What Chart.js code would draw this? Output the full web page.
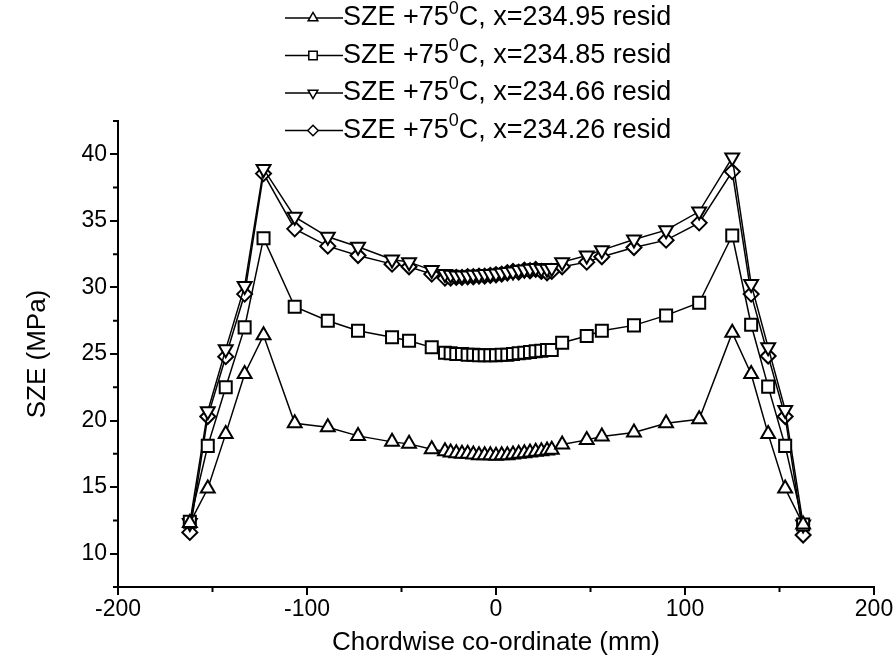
<!DOCTYPE html>
<html>
<head>
<meta charset="utf-8">
<script src="https://cdn.jsdelivr.net/npm/chart.js"></script>
<style>
  body { margin: 0; background: #fff; }
  .ChartWrapper { width: 896px; height: 663px; }
</style>
</head>
<body>
<div class="ChartWrapper"><canvas id="myChart"></canvas></div>
<script>
// chordwise positions (mm), shared by all four runs
const xPos = [-162, -152.5, -143, -133, -123, -106.5, -89, -73, -55, -46, -34,
  -27, -24, -21, -18, -15, -12, -9, -6, -3, 0, 3, 6, 9, 12, 15, 18, 21, 24, 27, 29.5,
  35, 48, 56, 73, 90, 107.5, 125, 135, 144, 153, 162.5];

const resid23495 = [12.3, 14.9, 19.0, 23.5, 26.4, 19.8, 19.5, 18.85, 18.4, 18.25, 17.85,
  17.7, 17.6, 17.55, 17.5, 17.5, 17.45, 17.4, 17.4, 17.4, 17.35, 17.4, 17.4, 17.45, 17.5, 17.55, 17.6, 17.65, 17.7, 17.75, 17.8,
  18.2, 18.55, 18.8, 19.1, 19.8, 20.1, 26.6, 23.5, 19.0, 14.9, 12.2];

const resid23485 = [12.4, 18.1, 22.5, 27.0, 33.7, 28.55, 27.5, 26.75, 26.25, 26.0, 25.5,
  25.1, 25.05, 25.0, 25.0, 24.95, 24.95, 24.9, 24.9, 24.9, 24.9, 24.95, 24.95, 25.0, 25.05, 25.1, 25.15, 25.2, 25.25, 25.3, 25.3,
  25.85, 26.35, 26.75, 27.15, 27.9, 28.85, 33.9, 27.2, 22.55, 18.1, 12.2];

const resid23466 = [12.3, 20.7, 25.35, 30.1, 38.9, 35.3, 33.8, 33.05, 32.1, 31.9, 31.3,
  31.0, 30.95, 30.9, 30.9, 30.9, 30.95, 30.95, 31.0, 31.0, 31.05, 31.1, 31.15, 31.2, 31.3, 31.35, 31.4, 31.45, 31.4, 31.4, 31.45,
  31.9, 32.4, 32.8, 33.6, 34.3, 35.7, 39.75, 30.25, 25.5, 20.8, 12.2];

const resid23426 = [11.6, 20.3, 24.8, 29.5, 38.55, 34.4, 33.1, 32.4, 31.75, 31.55, 31.0,
  30.7, 30.7, 30.75, 30.75, 30.8, 30.8, 30.85, 30.85, 30.9, 30.95, 31.0, 31.1, 31.2, 31.15, 31.3, 31.25, 31.35, 31.2, 31.1, 31.2,
  31.55, 31.9, 32.3, 33.0, 33.55, 34.85, 38.7, 29.5, 24.85, 20.3, 11.4];

const seriesNames = ['x=234.95 resid', 'x=234.85 resid', 'x=234.66 resid', 'x=234.26 resid'];
const xMajorTicks = [-200, -100, 0, 100, 200];
const xMinorTicks = [-150, -50, 50, 150];
const yMajorTicks = [10, 15, 20, 25, 30, 35, 40];
const yMinorTicks = [7.5, 12.5, 17.5, 22.5, 27.5, 32.5, 37.5, 42.5];

const FONT = '"Liberation Sans", Arial, sans-serif';

const toPoints = vals => xPos.map((x, i) => ({ x: x, y: vals[i] }));

const makeSet = (name, vals, style, rot, r) => ({
  label: name,
  data: toPoints(vals),
  borderColor: '#000',
  borderWidth: 1.5,
  pointStyle: style,
  rotation: rot,
  pointRadius: r,
  pointBorderWidth: 2,
  pointBorderColor: '#000',
  pointBackgroundColor: '#fff',
  fill: false,
  tension: 0
});

// short minor ticks that Chart.js does not draw on its own
const minorTicks = {
  id: 'minorTicks',
  afterDraw(chart) {
    const ctx = chart.ctx;
    const xs = chart.scales.x, ys = chart.scales.y;
    ctx.save();
    ctx.strokeStyle = '#000';
    ctx.lineWidth = 2;
    ctx.beginPath();
    xMinorTicks.forEach(v => {
      const px = xs.getPixelForValue(v);
      ctx.moveTo(px, xs.top);
      ctx.lineTo(px, xs.top + 5);
    });
    yMinorTicks.forEach(v => {
      const py = ys.getPixelForValue(v);
      ctx.moveTo(ys.right, py);
      ctx.lineTo(ys.right - 5, py);
    });
    // axis runs a little past the corner, like the original
    ctx.moveTo(ys.right, xs.top);
    ctx.lineTo(ys.right, xs.top + 7);
    ctx.stroke();
    ctx.restore();
  }
};

// legend drawn as "—marker—text" rows like the original plot
const legendRows = {
  id: 'legendRows',
  afterDraw(chart) {
    const ctx = chart.ctx;
    ctx.save();
    chart.data.datasets.forEach((ds, i) => {
      const y = 18 + i * 37.5;
      ctx.strokeStyle = '#000';
      ctx.lineWidth = 1.5;
      ctx.beginPath();
      ctx.moveTo(285, y);
      ctx.lineTo(343, y);
      ctx.stroke();
      ctx.fillStyle = '#fff';
      Chart.helpers.drawPoint(ctx, {
        pointStyle: ds.pointStyle, rotation: ds.rotation,
        radius: ds.pointRadius * 0.7, borderWidth: 1.5
      }, 313, y);

      ctx.fillStyle = '#000';
      ctx.textBaseline = 'middle';
      ctx.textAlign = 'left';
      ctx.font = '27px ' + FONT;
      let x = 343;
      const a = 'SZE +75';
      ctx.fillText(a, x, y);
      x += ctx.measureText(a).width;
      ctx.font = '18px ' + FONT;
      ctx.fillText('0', x, y - 9);
      x += ctx.measureText('0').width;
      ctx.font = '27px ' + FONT;
      ctx.fillText('C, ' + ds.label, x, y);
    });
    ctx.restore();
  }
};

new Chart(document.getElementById('myChart').getContext('2d'), {
  type: 'line',
  data: {
    datasets: [
      makeSet(seriesNames[0], resid23495, 'triangle', 0, 8),
      makeSet(seriesNames[1], resid23485, 'rect', 0, 8.5),
      makeSet(seriesNames[2], resid23466, 'triangle', 180, 8),
      makeSet(seriesNames[3], resid23426, 'rectRot', 0, 7.5)
    ]
  },
  options: {
    responsive: true,
    maintainAspectRatio: false,
    animation: false,
    layout: { padding: { left: 0, right: 22, top: 121, bottom: 0 } },
    plugins: {
      legend: { display: false },
      tooltip: { enabled: false }
    },
    scales: {
      x: {
        type: 'linear',
        min: -200,
        max: 200,
        afterBuildTicks: s => { s.ticks = xMajorTicks.map(v => ({ value: v })); },
        afterFit: s => { s.height = 76; },
        border: { color: '#000', width: 2 },
        grid: { display: true, drawOnChartArea: false, drawTicks: true, tickLength: 8, color: '#000', lineWidth: 2 },
        ticks: { color: '#000', font: { family: FONT, size: 23 }, padding: 1, maxRotation: 0 },
        title: { display: true, text: 'Chordwise co-ordinate (mm)', color: '#000', font: { family: FONT, size: 26 }, padding: { top: 0, bottom: 5 } }
      },
      y: {
        type: 'linear',
        min: 7.5,
        max: 42.5,
        afterBuildTicks: s => { s.ticks = yMajorTicks.map(v => ({ value: v })); },
        afterFit: s => { s.width = 118; },
        border: { color: '#000', width: 2 },
        grid: { display: true, drawOnChartArea: false, drawTicks: true, tickLength: 8, color: '#000', lineWidth: 2 },
        ticks: { color: '#000', font: { family: FONT, size: 23 }, padding: 3 },
        title: { display: true, text: 'SZE (MPa)', color: '#000', font: { family: FONT, size: 26 }, padding: { top: 22, bottom: 0 } }
      }
    }
  },
  plugins: [minorTicks, legendRows]
});
</script>
</body>
</html>
